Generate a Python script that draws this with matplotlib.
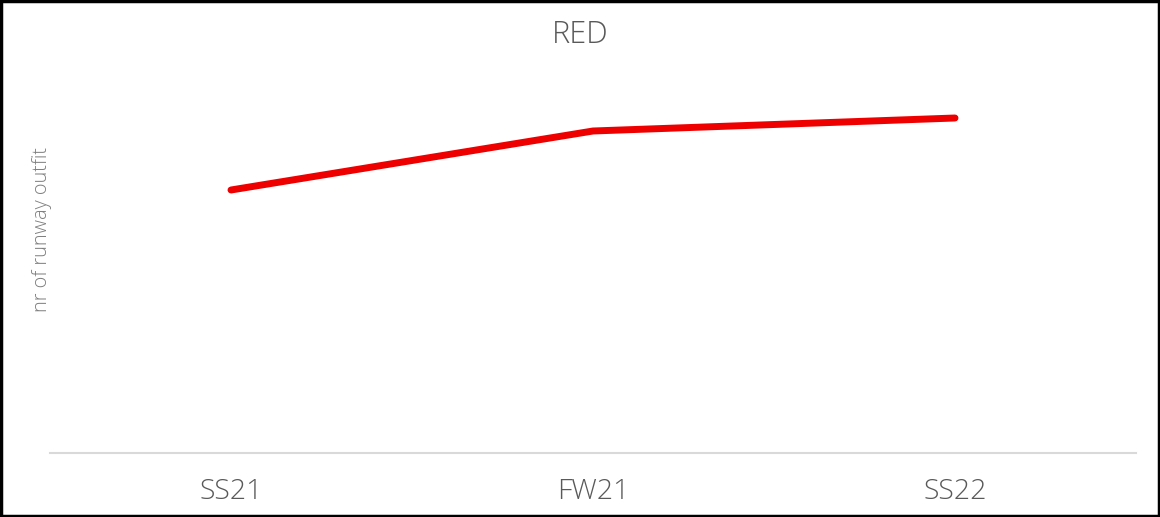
import matplotlib
matplotlib.use("Agg")
import matplotlib.pyplot as plt
from matplotlib.patches import Rectangle

categories = ["SS21", "FW21", "SS22"]
values = [26.3, 32.2, 33.5]
title = "RED"
ylabel = "nr of runway outfit"

plt.rcParams['font.family'] = ['Open Sans', 'DejaVu Sans']

fig = plt.figure(figsize=(11.6, 5.17), dpi=100)
ax = fig.add_axes([50/1160, (517-453)/517, (1136-50)/1160, (453-60)/517])

x = list(range(len(categories)))
ax.plot(x, values, color="#EE0000", linewidth=5, solid_capstyle="round", solid_joinstyle="round")

ax.set_xlim(-0.5, len(categories) - 0.5)
ax.set_ylim(0, 39.3)
ax.set_xticks(x)
ax.set_xticklabels(categories, fontsize=20.5, color="#595959", fontweight="light")
ax.tick_params(axis="x", length=0, pad=18)
ax.set_yticks([])
for s in ["top", "right", "left"]:
    ax.spines[s].set_visible(False)
ax.spines["bottom"].set_color("#D9D9D9")
ax.spines["bottom"].set_linewidth(1.5)

fig.text(580/1160, 1 - 35/517, title, ha="center", va="center", fontsize=22, color="#595959", fontweight="light")
fig.text(42/1160, 1 - 230/517, ylabel, ha="center", va="center", rotation=90, fontsize=14.3, color="#7F7F7F", fontweight="light")

fig.patches.append(Rectangle((0.001, 0.002), 0.998, 0.996, transform=fig.transFigure,
                             fill=False, edgecolor="black", linewidth=2.5))

fig.savefig("out.png", dpi=100)
